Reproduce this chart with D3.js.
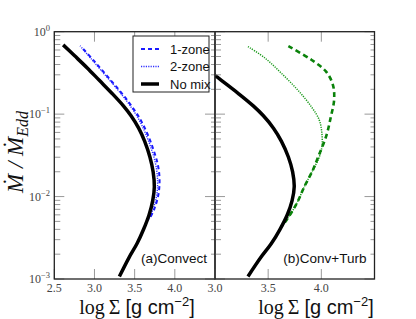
<!DOCTYPE html>
<html>
<head>
<meta charset="utf-8">
<script src="https://cdn.jsdelivr.net/npm/d3@7"></script>
<style>
	body { margin: 0; background: #fff; }
	svg { display: block; }
</style>
</head>
<body>
<div id="chart"></div>
<script>
// log Sigma vs log10(Mdot/Mdot_Edd)
const noMixSigma = [2.61, 2.75, 2.91, 3.06, 3.22, 3.36, 3.455, 3.55, 3.625, 3.69, 3.73, 3.745, 3.725, 3.68, 3.61, 3.53, 3.43, 3.31]
const noMixMdot = [-0.16, -0.29, -0.44, -0.59, -0.75, -0.9, -1.02, -1.17, -1.33, -1.52, -1.7, -1.88, -2.05, -2.22, -2.4, -2.57, -2.74, -2.97]

const oneZoneASigma = [2.86, 3.0, 3.15, 3.3, 3.43, 3.55, 3.65, 3.73, 3.79, 3.81, 3.795, 3.745, 3.68]
const oneZoneAMdot = [-0.21, -0.36, -0.53, -0.7, -0.86, -1.03, -1.22, -1.42, -1.62, -1.8, -1.98, -2.15, -2.28]
const twoZoneASigma = [2.82, 2.96, 3.11, 3.26, 3.4, 3.52, 3.62, 3.7, 3.76, 3.785, 3.775, 3.73, 3.675]
const twoZoneAMdot = [-0.17, -0.33, -0.5, -0.67, -0.84, -1.01, -1.2, -1.4, -1.6, -1.8, -1.98, -2.15, -2.28]

const oneZoneBSigma = [3.69, 3.906, 4.045, 4.11, 4.12, 4.09, 4.045, 3.97, 3.92, 3.84, 3.77, 3.67, 3.62]
const oneZoneBMdot = [-0.175, -0.34, -0.485, -0.65, -0.83, -1.03, -1.27, -1.52, -1.68, -1.88, -2.08, -2.29, -2.37]
const twoZoneBSigma = [3.31, 3.47, 3.625, 3.78, 3.906, 3.98, 4.005, 4.005, 3.975, 3.92, 3.84, 3.77, 3.67, 3.62]
const twoZoneBMdot = [-0.18, -0.32, -0.505, -0.71, -0.91, -1.07, -1.23, -1.4, -1.54, -1.68, -1.88, -2.08, -2.29, -2.37]

const xTicksA = [2.5, 3.0, 3.5, 4.0, 4.5]
const xTicksB = [3.0, 3.5, 4.0, 4.5]
const xLabelsA = ['2.5', '3.0', '3.5', '4.0', '']
const xLabelsB = ['3.0', '3.5', '4.0', '']
const yDecades = [0, -1, -2, -3]
const legendNames = ['1-zone', '2-zone', 'No mix']
const panelNames = ['(a)Convect', '(b)Conv+Turb']

const fullWidth = 416
const fullHeight = 319
const plotTop = 31.7
const plotBottom = 279

const svg = d3
	.select('#chart')
	.append('svg')
	.attr('width', fullWidth)
	.attr('height', fullHeight)

const y = d3.scaleLog().domain([1e-3, 1]).range([plotBottom, plotTop])
const xA = d3.scaleLinear().domain([2.5, 4.5]).range([54.3, 215])
const xB = d3.scaleLinear().domain([3.0, 4.5]).range([215, 374.5])

const zip = (xs, ys) => xs.map((x, i) => [x, Math.pow(10, ys[i])])

const serif = '"Liberation Serif", "DejaVu Serif", serif'
const sans = '"Liberation Sans", Arial, sans-serif'

function drawPanel(x, ticks, labels, series, name) {
	const [x0, x1] = x.range()
	const g = svg.append('g')

	// curves
	const line = d3
		.line()
		.x((d) => x(d[0]))
		.y((d) => y(d[1]))
		.curve(d3.curveCatmullRom)
	const clipId = 'clip' + Math.round(x0)
	svg
		.append('clipPath')
		.attr('id', clipId)
		.append('rect')
		.attr('x', x0)
		.attr('y', plotTop)
		.attr('width', x1 - x0)
		.attr('height', plotBottom - plotTop)
	const curves = g.append('g').attr('clip-path', `url(#${clipId})`)
	series.forEach((s) => {
		curves
			.append('path')
			.datum(s.data)
			.attr('d', line)
			.attr('fill', 'none')
			.attr('stroke', s.color)
			.attr('stroke-width', s.width)
			.attr('stroke-dasharray', s.dash)
	})

	// x ticks, top and bottom
	ticks.forEach((t, i) => {
		g.append('line')
			.attr('x1', x(t)).attr('x2', x(t))
			.attr('y1', plotBottom).attr('y2', plotBottom - 10)
			.attr('stroke', '#999')
		g.append('line')
			.attr('x1', x(t)).attr('x2', x(t))
			.attr('y1', plotTop).attr('y2', plotTop + 10)
			.attr('stroke', '#999')
		g.append('text')
			.attr('x', x(t))
			.attr('y', plotBottom + 13)
			.attr('text-anchor', 'middle')
			.attr('font-family', serif)
			.attr('font-size', 12)
			.attr('fill', '#444')
			.text(labels[i])
	})

	// y ticks, both sides
	const yTicks = y.ticks()
	yTicks.forEach((t) => {
		const major = Math.abs(Math.log10(t) - Math.round(Math.log10(t))) < 1e-9
		const len = major ? 10 : 6
		g.append('line')
			.attr('x1', x0).attr('x2', x0 + len)
			.attr('y1', y(t)).attr('y2', y(t))
			.attr('stroke', '#999')
		g.append('line')
			.attr('x1', x1).attr('x2', x1 - (major ? 10 : 4))
			.attr('y1', y(t)).attr('y2', y(t))
			.attr('stroke', '#999')
	})

	// frame
	g.append('rect')
		.attr('x', x0)
		.attr('y', plotTop)
		.attr('width', x1 - x0)
		.attr('height', plotBottom - plotTop)
		.attr('fill', 'none')
		.attr('stroke', '#222')
		.attr('stroke-width', 1.3)

	g.append('text')
		.attr('x', x1 - 8)
		.attr('y', plotBottom - 16)
		.attr('text-anchor', 'end')
		.attr('font-family', sans)
		.attr('font-size', 13.5)
		.attr('fill', '#111')
		.text(name)
}

const black = {color: '#000', width: 3.5, dash: null}
const blueDash = {color: '#1a1aff', width: 2, dash: '4,3'}
const blueDot = {color: '#3030ff', width: 1.4, dash: '1.2,1.2'}

drawPanel(xA, xTicksA, xLabelsA, [
	{...blueDot, data: zip(twoZoneASigma, twoZoneAMdot)},
	{...blueDash, data: zip(oneZoneASigma, oneZoneAMdot)},
	{...black, data: zip(noMixSigma, noMixMdot)},
], panelNames[0])

drawPanel(xB, xTicksB, xLabelsB, [
	{data: zip(twoZoneBSigma, twoZoneBMdot), color: '#1a9a1a', width: 1.5, dash: '1.2,1.2'},
	{data: zip(oneZoneBSigma, oneZoneBMdot), color: '#0a820a', width: 2.6, dash: '5,3.5'},
	{...black, data: zip(noMixSigma, noMixMdot)},
], panelNames[1])

// y tick labels
yDecades.forEach((p) => {
	const t = svg
		.append('text')
		.attr('x', 50)
		.attr('y', y(Math.pow(10, p)) + 4)
		.attr('text-anchor', 'end')
		.attr('font-family', serif)
		.attr('font-size', 12)
		.attr('fill', '#444')
	t.append('tspan').text('10')
	t.append('tspan')
		.attr('dy', -5)
		.attr('font-size', 8.5)
		.text(p === 0 ? '0' : '\u2212' + -p)
})

// legend
const legend = svg.append('g')
legend
	.append('rect')
	.attr('x', 133)
	.attr('y', 36)
	.attr('width', 76)
	.attr('height', 56)
	.attr('fill', '#fff')
	.attr('stroke', '#222')
	.attr('stroke-width', 1)
const legendStyles = [blueDash, blueDot, black]
legendNames.forEach((n, i) => {
	const ly = 49 + i * 17.5
	legend
		.append('line')
		.attr('x1', 141).attr('x2', 159)
		.attr('y1', ly).attr('y2', ly)
		.attr('stroke', legendStyles[i].color)
		.attr('stroke-width', legendStyles[i].width)
		.attr('stroke-dasharray', legendStyles[i].dash)
	legend
		.append('text')
		.attr('x', 170)
		.attr('y', ly + 4.5)
		.attr('font-family', sans)
		.attr('font-size', 13)
		.attr('fill', '#111')
		.text(n)
})

// axis titles
function xTitle(cx) {
	const t = svg
		.append('text')
		.attr('x', cx)
		.attr('y', 314)
		.attr('text-anchor', 'middle')
		.attr('font-size', 20)
		.attr('fill', '#111')
	t.append('tspan').attr('font-family', serif).text('log\u2009\u03A3 ')
	t.append('tspan').attr('font-family', sans).text('[g cm')
	t.append('tspan').attr('font-family', sans).attr('font-size', 13).attr('dy', -8).text('\u22122')
	t.append('tspan').attr('font-family', sans).attr('dy', 8).text(']')
}
xTitle(137)
xTitle(316)

const yt = svg
	.append('text')
	.attr('transform', 'translate(23, 152) rotate(-90)')
	.attr('text-anchor', 'middle')
	.attr('font-family', serif)
	.attr('font-style', 'italic')
	.attr('font-size', 23)
	.attr('fill', '#111')
yt.append('tspan').text('M\u0307 / M\u0307')
yt.append('tspan').attr('font-size', 16).attr('dy', 5).text('Edd')
</script>
</body>
</html>
